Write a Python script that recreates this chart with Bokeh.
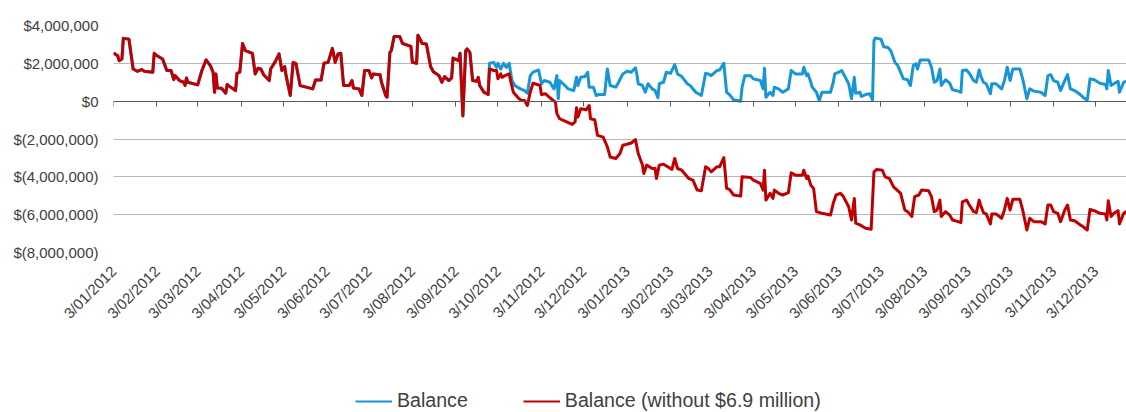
from math import pi
import pandas as pd
from bokeh.plotting import figure
from bokeh.layouts import column
from bokeh.models import FixedTicker, DatetimeAxis, Legend, LegendItem, Range1d
from bokeh.embed import file_html
from bokeh.resources import INLINE

START = "2012-01-03"

# days since START and balance ($ millions) -- both series identical up to late Sep 2012
shared_day = [0,3,4,6,7,11,14,17,20,22,28,29,31,35,38,41,43,44,47,50,51,52,53,60,63,66,69,71,72,73,
              74,77,80,81,83,87,88,90,92,94,99,101,103,105,107,111,112,115,118,120,122,123,126,128,130,
              133,136,142,144,148,150,153,156,158,160,162,164,168,170,171,175,177,179,182,184,185,190,
              191,194,195,197,198,200,204,206,212,213,216,217,220,223,226,228,232,234,236,239,241,242,
              246,247,249,251,252,254,256,259,260,261,264,267]
shared_m = [2.55,2.40,2.14,2.23,3.32,3.28,1.70,1.58,1.67,1.58,1.53,2.53,2.40,2.23,1.62,1.62,1.14,1.35,1.09,1.00,
            0.83,1.23,1.00,0.86,1.62,2.18,1.88,1.53,0.47,1.44,0.70,0.68,0.42,0.88,0.77,0.56,1.47,1.53,3.05,2.67,
            2.53,1.44,1.74,1.70,1.40,1.09,1.70,2.05,2.50,1.62,1.83,1.35,0.30,2.04,2.00,0.83,0.77,0.65,1.12,1.12,
            2.00,2.05,2.79,2.05,2.50,2.53,0.83,0.83,1.09,0.70,0.65,0.30,1.62,1.62,1.23,1.44,1.40,1.00,0.30,0.21,
            2.58,2.67,3.42,3.42,3.05,2.90,2.05,2.00,3.49,3.05,3.02,1.83,1.56,1.35,1.00,1.30,1.09,1.23,2.28,2.14,
            2.53,-0.78,2.67,2.76,2.58,1.09,1.05,1.26,0.83,0.47,0.35]

balance_day = [268,271,273,274,276,278,280,282,284,286,290,293,295,297,299,303,305,307,311,314,
               316,317,318,321,324,328,330,331,333,336,338,339,342,344,346,350,352,354,358,360,
               363,366,369,372,373,374,377,379,381,384,386,388,389,392,394,397,400,402,405,409,
               411,415,419,422,424,426,430,432,435,437,439,442,447,448,450,454,456,461,463,464,
               465,468,470,471,474,477,481,483,486,491,492,494,495,497,498,501,503,505,511,513,
               514,517,519,521,524,526,528,529,532,533,536,539,541,542,543,547,549,552,554,557,
               559,563,566,568,570,572,573,575,581,583,585,587,589,590,593,596,598,602,604,605,
               608,610,613,615,617,618,620,622,625,626,629,633,635,637,639,641,646,648,651,653,
               656,661,664,666,668,670,673,675,678,680,682,685,689,691,694,696,699,703,707,708,
               709,711,713,716,717,720,722]
balance_m = [2.0,2.05,1.79,2.0,1.7,2.0,1.79,2.0,1.09,0.83,0.65,0.56,0.42,1.35,1.53,1.65,0.92,1.09,1.0,0.65,
             1.35,0.13,1.09,0.88,0.65,0.56,1.26,0.83,1.26,1.3,1.53,0.74,0.74,0.3,0.35,0.35,1.7,0.83,0.74,1.0,
             1.44,1.58,1.53,1.76,1.44,0.92,0.83,0.47,0.92,0.65,0.56,0.18,0.92,1.0,1.53,1.47,1.93,1.44,1.3,0.92,
             0.83,0.47,0.3,1.47,1.44,1.35,1.62,1.65,2.0,0.47,0.35,0.07,0.0,0.74,1.35,1.35,1.18,1.09,0.65,1.74,
             0.21,0.47,0.3,0.74,0.65,0.47,0.65,1.62,1.44,1.44,1.79,1.35,1.44,1.0,0.74,0.47,0.04,0.47,0.47,1.0,
             1.44,1.53,1.62,1.35,0.92,0.13,1.26,0.42,0.47,0.25,0.35,0.39,0.07,3.19,3.34,3.28,2.88,2.84,2.67,2.05,
             1.88,1.18,1.13,0.83,1.88,1.97,1.7,2.18,2.18,1.79,1.0,1.09,1.7,0.83,1.13,0.95,0.6,0.53,0.47,1.62,
             1.65,1.47,1.09,1.0,1.65,1.35,1.0,0.92,0.39,0.92,0.92,0.65,1.09,1.79,1.09,1.7,1.7,1.18,0.13,0.65,
             0.53,0.47,0.3,1.35,1.4,1.09,1.0,0.56,1.09,1.4,0.65,0.56,0.35,0.21,0.04,1.18,1.13,0.95,0.88,0.65,
             1.62,0.83,0.92,1.05,0.47,1.0,1.05]

without_day = [268,271,273,274,276,277,279,282,283,285,289,291,293,295,297,299,302,304,305,308,
               311,315,316,318,323,327,329,330,331,333,337,339,340,343,345,349,352,354,358,361,
               363,366,369,372,374,377,378,380,384,386,387,389,392,395,398,400,402,405,407,410,
               413,416,419,422,424,426,430,432,435,437,439,442,447,448,454,456,461,463,464,465,
               468,470,471,474,477,481,483,486,491,492,494,495,497,499,501,505,511,513,515,518,
               520,524,526,528,529,532,536,540,542,544,548,550,553,556,561,564,566,569,571,574,
               576,581,583,585,587,589,590,593,596,598,602,604,605,608,610,613,615,617,618,620,
               622,625,626,629,633,635,637,639,641,646,648,651,653,656,661,664,666,668,670,673,
               675,678,680,682,685,689,691,694,696,699,703,707,708,709,711,713,716,717,720,722]
without_m = [1.7,1.62,1.62,1.18,1.44,1.26,1.35,1.44,1.09,0.47,0.13,0.04,0.04,-0.23,0.47,0.95,0.88,0.83,0.35,0.39,
             0.18,-0.05,-0.66,-0.93,-1.1,-1.23,-1.1,-0.35,-0.84,-0.4,-0.45,-0.23,-0.93,-0.98,-1.81,-1.9,-2.42,-2.95,-3.03,-2.77,
             -2.33,-2.28,-2.21,-2.03,-2.77,-3.38,-3.82,-3.38,-3.56,-3.56,-4.09,-3.38,-3.33,-3.47,-3.61,-3.03,-3.56,-3.65,-3.82,-4.09,
             -4.17,-4.7,-4.74,-3.47,-3.56,-3.74,-3.47,-3.47,-2.98,-4.61,-4.66,-4.96,-5.02,-4.0,-4.03,-4.17,-4.35,-4.7,-3.65,-5.23,
             -4.87,-5.14,-4.7,-4.87,-4.96,-4.84,-3.79,-3.91,-3.91,-3.65,-4.09,-3.96,-4.44,-4.61,-5.84,-5.93,-6.02,-5.4,-4.96,-4.87,
             -5.02,-5.58,-6.28,-5.14,-6.45,-6.54,-6.72,-6.77,-3.74,-3.61,-3.65,-4.0,-4.09,-4.53,-4.87,-5.75,-5.84,-6.1,-5.05,-4.96,
             -4.7,-4.74,-5.05,-5.84,-5.75,-5.23,-6.1,-5.84,-6.02,-6.28,-6.37,-6.42,-5.32,-5.23,-5.49,-5.84,-5.89,-5.23,-5.49,-5.89,
             -5.96,-6.49,-5.96,-5.96,-6.19,-5.75,-5.14,-5.75,-5.19,-5.19,-5.75,-6.81,-6.19,-6.37,-6.37,-6.49,-5.49,-5.49,-5.84,-5.93,
             -6.37,-5.75,-5.49,-6.28,-6.32,-6.54,-6.63,-6.81,-5.72,-5.79,-5.93,-5.96,-6.28,-5.26,-6.1,-5.93,-5.79,-6.49,-5.93,-5.84]

x_tick_labels = ["3/01/2012", "3/02/2012", "3/03/2012", "3/04/2012", "3/05/2012", "3/06/2012",
                 "3/07/2012", "3/08/2012", "3/09/2012", "3/10/2012", "3/11/2012", "3/12/2012",
                 "3/01/2013", "3/02/2013", "3/03/2013", "3/04/2013", "3/05/2013", "3/06/2013",
                 "3/07/2013", "3/08/2013", "3/09/2013", "3/10/2013", "3/11/2013", "3/12/2013"]
y_ticks = [4000000, 2000000, 0, -2000000, -4000000, -6000000, -8000000]
y_tick_labels = ["$4,000,000", "$2,000,000", "$0", "$(2,000,000)", "$(4,000,000)",
                 "$(6,000,000)", "$(8,000,000)"]

series_names = ["Balance", "Balance (without $6.9 million)"]
series_colors = ["#1696d6", "#c00000"]

start = pd.Timestamp(START)


def to_dates(days):
    return [(start + pd.Timedelta(days=d)).to_pydatetime() for d in days]


bal_x = to_dates(shared_day + balance_day)
bal_y = [v * 1e6 for v in shared_m + balance_m]
wo_x = to_dates(shared_day + without_day)
wo_y = [v * 1e6 for v in shared_m + without_m]

tick_dates = pd.to_datetime(x_tick_labels, format="%d/%m/%Y")
tick_ms = [int(t.value // 10**6) for t in tick_dates]

FONT = "Liberation Sans"
TEXT = "#404040"
LINE_W = 3
W, H_CHART, H_LEGEND = 1126, 380, 32
FRAME_LEFT = 113

p = figure(width=W, height=H_CHART, x_axis_type="datetime",
           x_range=Range1d(bal_x[0], bal_x[-1]),
           y_range=Range1d(min(y_ticks), max(y_ticks)),
           output_backend="svg", toolbar_location=None,
           min_border_left=FRAME_LEFT, min_border_right=0, min_border_top=25, min_border_bottom=128)
p.outline_line_color = None

p.xgrid.visible = False
p.ygrid.ticker = FixedTicker(ticks=y_ticks)
p.ygrid.grid_line_color = "#b8b8b8"
p.ygrid.grid_line_width = 1

ya = p.yaxis[0]
ya.ticker = FixedTicker(ticks=y_ticks)
ya.major_label_overrides = dict(zip(y_ticks, y_tick_labels))
ya.axis_line_color = None
ya.major_tick_line_color = None
ya.minor_tick_line_color = None
ya.major_tick_out = 0
ya.major_tick_in = 0
ya.major_label_standoff = 15
ya.major_label_text_font = FONT
ya.major_label_text_font_size = "15px"
ya.major_label_text_color = TEXT

xa = p.xaxis[0]
xa.ticker = FixedTicker(ticks=tick_ms)
xa.major_label_overrides = dict(zip(tick_ms, x_tick_labels))
xa.major_label_orientation = pi / 4
xa.axis_line_color = None
xa.major_tick_line_color = None
xa.minor_tick_line_color = None
xa.major_tick_out = 0
xa.major_tick_in = 0
xa.major_label_standoff = 16
xa.major_label_text_font = FONT
xa.major_label_text_font_size = "15px"
xa.major_label_text_color = TEXT

zero_axis = DatetimeAxis(fixed_location=0, ticker=FixedTicker(ticks=tick_ms),
                         major_label_overrides={t: "" for t in tick_ms},
                         major_label_text_font_size="0px",
                         axis_line_color="#595959", axis_line_width=1,
                         major_tick_line_color="#595959", major_tick_out=5, major_tick_in=0,
                         minor_tick_line_color=None, major_label_standoff=0)
p.add_layout(zero_axis, "below")

p.line(bal_x, bal_y, line_color=series_colors[0], line_width=LINE_W, line_join="round")
p.line(wo_x, wo_y, line_color=series_colors[1], line_width=LINE_W, line_join="round")

# legend strip below the chart (its frame is aligned with the chart's frame by the column);
# the series are drawn again here only as legend sources, outside this strip's visible y-range
lf = figure(width=W, height=H_LEGEND, output_backend="svg", toolbar_location=None,
            x_axis_location=None, y_axis_location=None, x_range=p.x_range,
            y_range=Range1d(10 * max(y_ticks), 11 * max(y_ticks)),
            min_border_left=FRAME_LEFT, min_border_right=0, min_border_top=0, min_border_bottom=0)
lf.outline_line_color = None
lf.grid.visible = False
lg_bal = lf.line(bal_x, bal_y, line_color=series_colors[0], line_width=2.2)
lg_wo = lf.line(wo_x, wo_y, line_color=series_colors[1], line_width=2.2)

legend = Legend(items=[LegendItem(label=series_names[0], renderers=[lg_bal]),
                       LegendItem(label=series_names[1], renderers=[lg_wo])],
                orientation="horizontal", location=(242, 0),
                border_line_color=None, background_fill_alpha=0,
                padding=0, margin=0, spacing=55, glyph_width=37, glyph_height=16,
                label_standoff=5, label_text_font=FONT, label_text_font_size="19.6px",
                label_text_color=TEXT, label_height=16)
lf.add_layout(legend)

open("out.html", "w").write(file_html(column(p, lf, spacing=0), INLINE))
